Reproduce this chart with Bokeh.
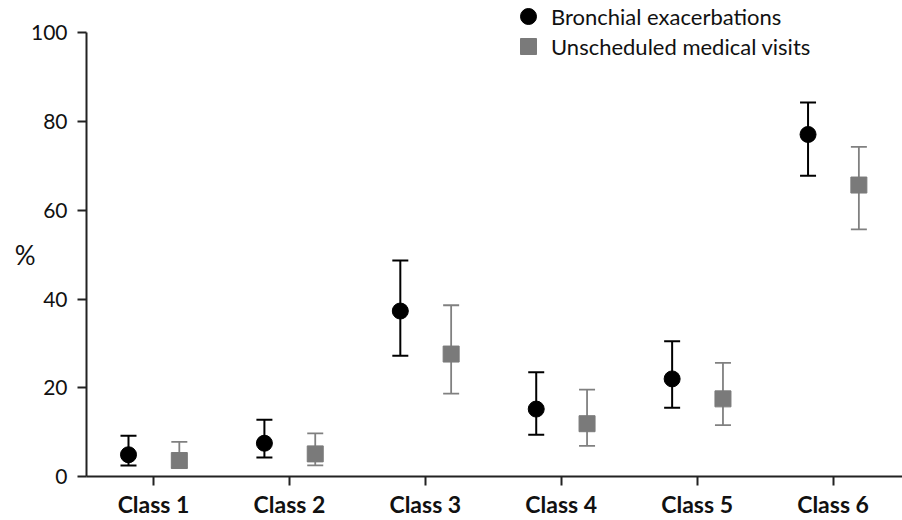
from bokeh.plotting import figure
from bokeh.models import (Range1d, FixedTicker, Legend, LegendItem, Whisker, TeeHead,
                          ColumnDataSource, LinearAxis)
from bokeh.transform import dodge
from bokeh.embed import file_html
from bokeh.resources import INLINE

categories = ["Class 1", "Class 2", "Class 3", "Class 4", "Class 5", "Class 6"]
exac = [4.9, 7.5, 37.3, 15.2, 22.0, 77.1]
exac_lo = [2.5, 4.3, 27.2, 9.4, 15.5, 67.8]
exac_hi = [9.2, 12.8, 48.7, 23.5, 30.5, 84.3]
visits = [3.6, 5.1, 27.6, 11.9, 17.5, 65.7]
visits_lo = [2.0, 2.5, 18.7, 6.9, 11.6, 55.7]
visits_hi = [7.8, 9.7, 38.6, 19.6, 25.6, 74.3]
y_ticks = [0, 20, 40, 60, 80, 100]
y_title = "%"
y_title_at = 50

FONT = "Lato"
xpos = list(range(1, len(categories) + 1))

src = ColumnDataSource(dict(x=xpos, exac=exac, exac_lo=exac_lo, exac_hi=exac_hi,
                            visits=visits, visits_lo=visits_lo, visits_hi=visits_hi))

p = figure(width=902, height=520, output_backend="svg", toolbar_location=None,
           x_range=Range1d(0.507, 6.511), y_range=Range1d(0, 107.3),
           min_border_left=86, min_border_right=0, min_border_top=0, min_border_bottom=41)
p.outline_line_color = None
p.grid.visible = False
p.background_fill_color = "white"

BLACK = "#000000"
GRAY = "#7a7a7a"
AX = "#222222"

xb = dodge("x", -0.184, range=p.x_range)
xg = dodge("x", 0.19, range=p.x_range)

w1 = Whisker(source=src, base=xb, lower="exac_lo", upper="exac_hi",
             line_color=BLACK, line_width=2,
             upper_head=TeeHead(size=16, line_color=BLACK, line_width=2),
             lower_head=TeeHead(size=16, line_color=BLACK, line_width=2), level="underlay")
w2 = Whisker(source=src, base=xg, lower="visits_lo", upper="visits_hi",
             line_color="#808080", line_width=1.8,
             upper_head=TeeHead(size=16, line_color="#808080", line_width=1.8),
             lower_head=TeeHead(size=16, line_color="#808080", line_width=1.8), level="underlay")
p.add_layout(w1)
p.add_layout(w2)

r1 = p.scatter(x=xb, y="exac", source=src, marker="circle", size=16,
               fill_color=BLACK, line_color=BLACK)
r2 = p.scatter(x=xg, y="visits", source=src, marker="square", size=16,
               fill_color=GRAY, line_color=GRAY)

# axes
p.xaxis.ticker = FixedTicker(ticks=xpos)
p.xaxis.major_label_overrides = {i: c for i, c in zip(xpos, categories)}
p.yaxis.ticker = FixedTicker(ticks=y_ticks)
p.yaxis.bounds = (y_ticks[0], y_ticks[-1])
for ax in (p.xaxis, p.yaxis):
    ax.axis_line_color = AX
    ax.axis_line_width = 2
    ax.major_tick_line_color = AX
    ax.major_tick_line_width = 2
    ax.major_tick_in = 0
    ax.major_tick_out = 9
    ax.minor_tick_line_color = None
    ax.major_label_text_color = "#111111"
    ax.major_label_text_font = FONT
p.xaxis.major_label_text_font_size = "23px"
p.xaxis.major_label_text_font_style = "bold"
p.xaxis.major_label_standoff = 4
p.yaxis.major_label_text_font_size = "21px"
p.yaxis.major_label_standoff = 10

# upright "%" y title as an outer, line-less axis label
title_axis = LinearAxis(ticker=FixedTicker(ticks=[y_title_at]),
                        major_label_overrides={y_title_at: y_title},
                        axis_line_color=None, major_tick_line_color=None,
                        minor_tick_line_color=None, major_tick_in=0, major_tick_out=0,
                        major_label_standoff=-8, major_label_text_font=FONT,
                        major_label_text_font_size="26px", major_label_text_color="#111111")
p.add_layout(title_axis, "left")

leg_common = dict(orientation="vertical", glyph_width=40, glyph_height=40, label_height=40,
                  spacing=0, label_standoff=3, padding=0, margin=0,
                  border_line_color=None, background_fill_alpha=0,
                  label_text_font=FONT, label_text_font_size="22px",
                  label_text_color="#111111")
legend1 = Legend(items=[LegendItem(label="Bronchial exacerbations", renderers=[r1])],
                 location=(422, 440), **leg_common)
legend2 = Legend(items=[LegendItem(label="Unscheduled medical visits", renderers=[r2])],
                 location=(422, 410), **leg_common)
p.add_layout(legend1)
p.add_layout(legend2)

open("out.html", "w").write(file_html(p, INLINE))
